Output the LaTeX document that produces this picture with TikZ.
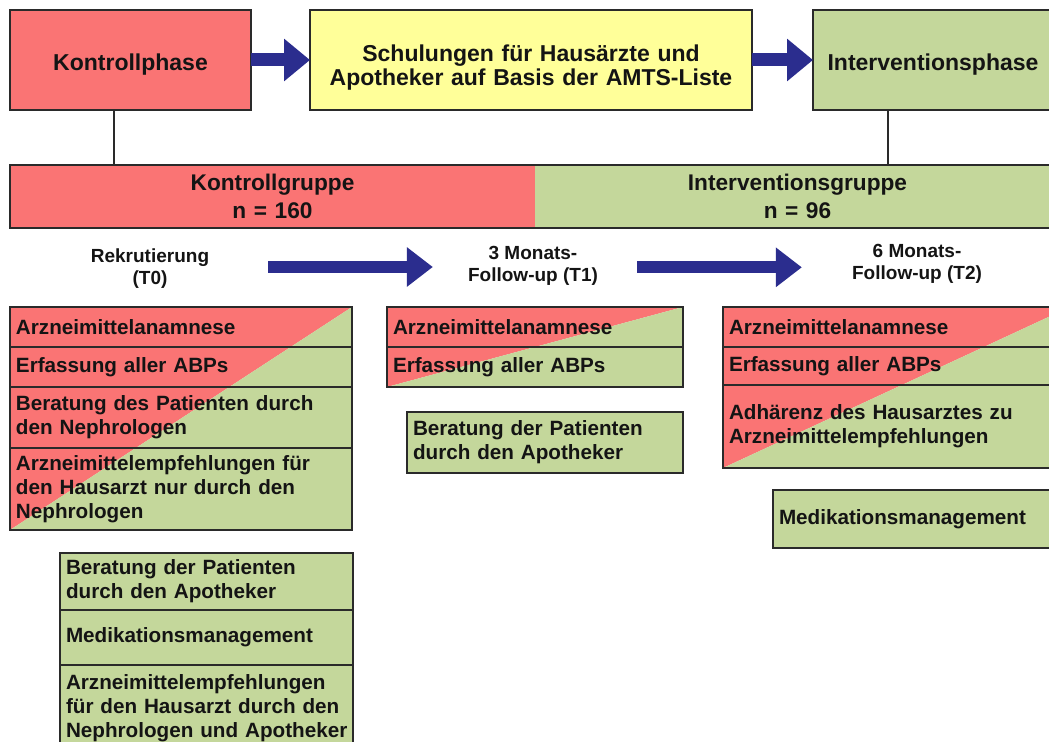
\documentclass[tikz,border=0pt]{standalone}
\usepackage{fontspec}
\setmainfont{Liberation Sans}
\usetikzlibrary{arrows.meta,backgrounds}
\definecolor{kred}{HTML}{FA7474}
\definecolor{igreen}{HTML}{C4D79B}
\definecolor{syellow}{HTML}{FFFF99}
\definecolor{ablue}{HTML}{2B2D8E}
\definecolor{bord}{HTML}{2A2A2A}
\newcommand\mytls{\setlength{\lineskiplimit}{-20pt}}
\begin{document}
\begin{tikzpicture}[x=0.75pt,y=-0.75pt,
  px/.style n args={4}{at={(#1,#2)}, anchor=north west,
     minimum width={(#3-#1)*0.75pt}, minimum height={(#4-#2)*0.75pt},
     text width={(#3-#1-12)*0.75pt}},
  box/.style={draw=bord, line width=1.3pt, inner xsep=4.5pt, inner ysep=0pt, outer sep=0pt, text=black!92},
  big/.style={font=\mytls\bfseries\fontsize{17.25}{17.5}\selectfont, align=center},
  grp/.style={font=\mytls\bfseries\fontsize{17}{20.5}\selectfont, align=center, text=black!92, inner xsep=4.5pt, inner ysep=0pt, outer sep=0pt},
  row/.style={font=\mytls\bfseries\fontsize{15.5}{18}\selectfont, align=left},
  lbl/.style={font=\mytls\bfseries\fontsize{14.25}{16.5}\selectfont, align=center, inner sep=0pt, text=black!92},
  conn/.style={draw=bord, line width=1.4pt},
  fat/.style={draw=ablue, line width=9.75pt, -{Triangle[length=19.5pt,width=30.75pt]}},
  fat2/.style={draw=ablue, line width=9pt, -{Triangle[length=19.5pt,width=28.5pt]}},
]
\useasboundingbox (0,0) rectangle (1049,742);

% top row
\node[box, fill=kred, big, text height=16.5pt, text depth=0pt, px={10}{10}{251}{110}] (kp) {Kontrollphase};
\node[box, fill=syellow, big, text height=20.5pt, text depth=17.5pt, px={310}{10}{752}{110}] (sch) {Schulungen für Hausärzte und\\Apotheker auf Basis der AMTS-Liste};
\node[box, fill=igreen, big, text height=16.5pt, text depth=0pt, px={813}{10}{1053}{110}] (ip) {Interventionsphase};
\draw[fat] (kp.east) -- (sch.west);
\draw[fat] (sch.east) -- (ip.west);

% group bar
\node[fill=kred, grp, px={10}{165}{535}{228}] (kg) {Kontrollgruppe\\n = 160};
\node[fill=igreen, grp, px={535}{165}{1060}{228}] (ig) {Interventionsgruppe\\n = 96};
\draw[draw=bord, line width=1.3pt] (kg.north west) rectangle (ig.south east);

\coordinate (cp1) at (114,0);
\coordinate (cp2) at (888,0);
\draw[conn] (kp.south -| cp1) -- (kg.north -| cp1);
\draw[conn] (ip.south -| cp2) -- (ig.north -| cp2);

% time labels
\node[lbl] (t0) at (150,269) {Rekrutierung\\(T0)};
\node[lbl] (t1) at (533,266) {3 Monats-\\Follow-up (T1)};
\node[lbl] (t2) at (917,264) {6 Monats-\\Follow-up (T2)};
\draw[fat2, shorten <=44.25pt, shorten >=26.25pt] ([yshift=1.5pt]t0.east) -- ([yshift=1.5pt]t0.east -| t1.west);
\draw[fat2, shorten <=29.25pt, shorten >=37.5pt] ([yshift=-1pt]t1.east) -- ([yshift=-1pt]t1.east -| t2.west);

% T0 column
\node[box, row, px={10}{307}{352}{347}] (a0) {Arzneimittelanamnese};
\node[box, row, px={10}{347}{352}{387}] (b0) {Erfassung aller ABPs};
\node[box, row, px={10}{387}{352}{448}] (c0) {Beratung des Patienten durch\\den Nephrologen};
\node[box, row, px={10}{448}{352}{530}] (d0) {Arzneimittelempfehlungen für\\den Hausarzt nur durch den\\Nephrologen};

\node[box, row, fill=igreen, px={60}{553}{353}{610}] (e0) {Beratung der Patienten\\durch den Apotheker};
\node[box, row, fill=igreen, px={60}{610}{353}{665}] (f0) {Medikationsmanagement};
\node[box, row, fill=igreen, px={60}{665}{353}{752}] (g0) {Arzneimittelempfehlungen\\für den Hausarzt durch den\\\mbox{Nephrologen und Apotheker}};

% T1 column
\node[box, row, px={387}{307}{683}{347}] (a1) {Arzneimittelanamnese};
\node[box, row, px={387}{347}{683}{387}] (b1) {Erfassung aller ABPs};
\node[box, row, fill=igreen, px={407}{412}{683}{473}] (e1) {Beratung der Patienten\\durch den Apotheker};

% T2 column
\node[box, row, px={723}{307}{1070}{347}] (a2) {Arzneimittelanamnese};
\node[box, row, px={723}{347}{1070}{385}] (b2) {Erfassung aller ABPs};
\node[box, row, px={723}{385}{1070}{468}] (d2) {Adhärenz des Hausarztes zu\\Arzneimittelempfehlungen};
\node[box, row, fill=igreen, px={773}{490}{1070}{548}] (m2) {Medikationsmanagement};

\begin{scope}[on background layer]
\fill[white] (0,0) rectangle (1049,742);
\fill[kred] (a0.north west) -- (a0.north east) -- (d0.south west) -- cycle;
\fill[igreen] (a0.north east) -- (d0.south east) -- (d0.south west) -- cycle;
\fill[kred] (a1.north west) -- (a1.north east) -- (b1.south west) -- cycle;
\fill[igreen] (a1.north east) -- (b1.south east) -- (b1.south west) -- cycle;
\fill[kred] (a2.north west) -- (a2.north east) -- (d2.south west) -- cycle;
\fill[igreen] (a2.north east) -- (d2.south east) -- (d2.south west) -- cycle;
\end{scope}
\end{tikzpicture}
\end{document}
